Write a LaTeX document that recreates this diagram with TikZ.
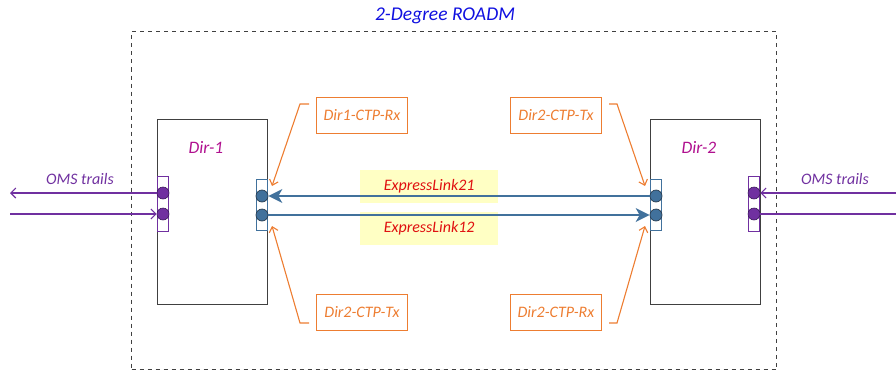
\documentclass[tikz,border=0pt]{standalone}
\usepackage{fontspec}
\setmainfont{Carlito}
\usetikzlibrary{arrows.meta}

\definecolor{framegray}{HTML}{404040}
\definecolor{titleblue}{HTML}{1010E0}
\definecolor{dirpink}{HTML}{B0108F}
\definecolor{omspurple}{HTML}{7030A0}
\definecolor{omsdark}{HTML}{3C1A5A}
\definecolor{linkblue}{HTML}{41719C}
\definecolor{linkdark}{HTML}{2A3D50}
\definecolor{ctporange}{HTML}{ED7D31}
\definecolor{linkred}{HTML}{E01010}
\definecolor{noteyellow}{HTML}{FFFFC4}

\tikzset{
  dirbox/.style={draw=framegray, line width=1pt, minimum width=110pt, minimum height=185pt, anchor=north west, inner sep=0pt},
  omsport/.style={draw=omspurple, line width=1pt, minimum width=11pt, minimum height=55pt, anchor=north west, inner sep=0pt},
  linkport/.style={draw=linkblue, line width=1pt, minimum width=11pt, minimum height=51pt, anchor=north west, inner sep=0pt},
  omsdot/.style={circle, fill=omspurple, draw=omsdark, line width=0.6pt, minimum size=12pt, inner sep=0pt},
  linkdot/.style={circle, fill=linkblue, draw=linkdark, line width=0.7pt, minimum size=12pt, inner sep=0pt},
  ctpbox/.style={draw=ctporange, line width=1pt, minimum width=91pt, minimum height=36pt, anchor=north west, inner sep=0pt, text=ctporange, font=\itshape\fontsize{16}{19}\selectfont},
  notebox/.style={fill=noteyellow, minimum width=138pt, minimum height=33pt, anchor=north west, inner sep=0pt, text=linkred, font=\itshape\fontsize{16}{19}\selectfont},
  omsline/.style={draw=omspurple, line width=1.1pt},
  omsarrow/.style={omsline, -{Straight Barb[length=5pt, width=10pt, line width=1.1pt]}},
  linkarrow/.style={draw=linkblue, line width=1.5pt, -{Stealth[length=14pt, width=14pt, inset=4pt]}},
  ctparrow/.style={draw=ctporange, line width=1.1pt, -{Straight Barb[length=5pt, width=9pt, line width=1.1pt]}},
  dirlabel/.style={text=dirpink, font=\itshape\fontsize{17.5}{20}\selectfont},
  omslabel/.style={text=omspurple, font=\itshape\fontsize{16}{19}\selectfont}
}

\begin{document}
\begin{tikzpicture}[x=1pt, y=-1pt]
  \useasboundingbox (0,0) rectangle (896,370);

  % ROADM outline and title
  \node[draw=framegray, line width=1pt, dash pattern=on 4pt off 4pt, minimum width=645pt, minimum height=338pt, anchor=north west, inner sep=0pt] (roadm) at (131,31) {};
  \node[text=titleblue, font=\itshape\fontsize{19.5}{22}\selectfont] (title) at (445,16) {2-Degree ROADM};

  % Direction blocks
  \node[dirbox] (dir1) at (157,119) {};
  \node[dirbox] (dir2) at (650,119) {};
  \node[dirlabel] (dir1lbl) at (206,147) {Dir-1};
  \node[dirlabel] (dir2lbl) at (699,147) {Dir-2};

  % Express link annotations
  \node[notebox] (el21) at (360,170) {ExpressLink21};
  \node[notebox] (el12) at (360,212) {ExpressLink12};

  % Line-side ports
  \node[omsport] (p1) at (157,176) {};
  \node[omsport] (p2) at (748,176) {};
  \node[omsdot] (o1a) at (163,193) {};
  \node[omsdot] (o1b) at (163,214) {};
  \node[omsdot] (o2a) at (754,193) {};
  \node[omsdot] (o2b) at (754,214) {};

  % Express ports
  \node[linkport] (e1) at (256,179) {};
  \node[linkport] (e2) at (650,179) {};
  \node[linkdot] (d1a) at (262,196) {};
  \node[linkdot] (d1b) at (262,215) {};
  \node[linkdot] (d2a) at (656,196) {};
  \node[linkdot] (d2b) at (656,215) {};

  % OMS trails
  \coordinate (w1) at (10,193);
  \coordinate (w2) at (10,214);
  \coordinate (r1) at (896,193);
  \coordinate (r2) at (896,214);
  \draw[omsarrow] (o1a) -- (w1);
  \draw[omsarrow] (w2) -- (o1b);
  \draw[omsarrow] (r1) -- (o2a);
  \draw[omsline] (o2b) -- (r2);
  \node[omslabel] (oms1) at (80,179) {OMS trails};
  \node[omslabel] (oms2) at (835,179) {OMS trails};

  % Express links
  \draw[linkarrow] (d2a) -- (d1a);
  \draw[linkarrow] (d1b) -- (d2b);

  % CTP callouts
  \node[ctpbox] (c1) at (316,97) {Dir1-CTP-Rx};
  \node[ctpbox] (c2) at (316,294) {Dir2-CTP-Tx};
  \node[ctpbox] (c3) at (510,97) {Dir2-CTP-Tx};
  \node[ctpbox] (c4) at (510,294) {Dir2-CTP-Rx};

  \coordinate (t1) at (272,186);
  \coordinate (t2) at (272,226);
  \coordinate (t3) at (645,186);
  \coordinate (t4) at (645,226);
  \draw[ctparrow] ([xshift=-7pt]c1.west |- 0,104) -- (300,104) -- (t1);
  \draw[ctparrow] ([xshift=-7pt]c2.west |- 0,323) -- (300,323) -- (t2);
  \draw[ctparrow] ([xshift=7pt]c3.east |- 0,104) -- (617,104) -- (t3);
  \draw[ctparrow] ([xshift=7pt]c4.east |- 0,323) -- (617,323) -- (t4);
\end{tikzpicture}
\end{document}
